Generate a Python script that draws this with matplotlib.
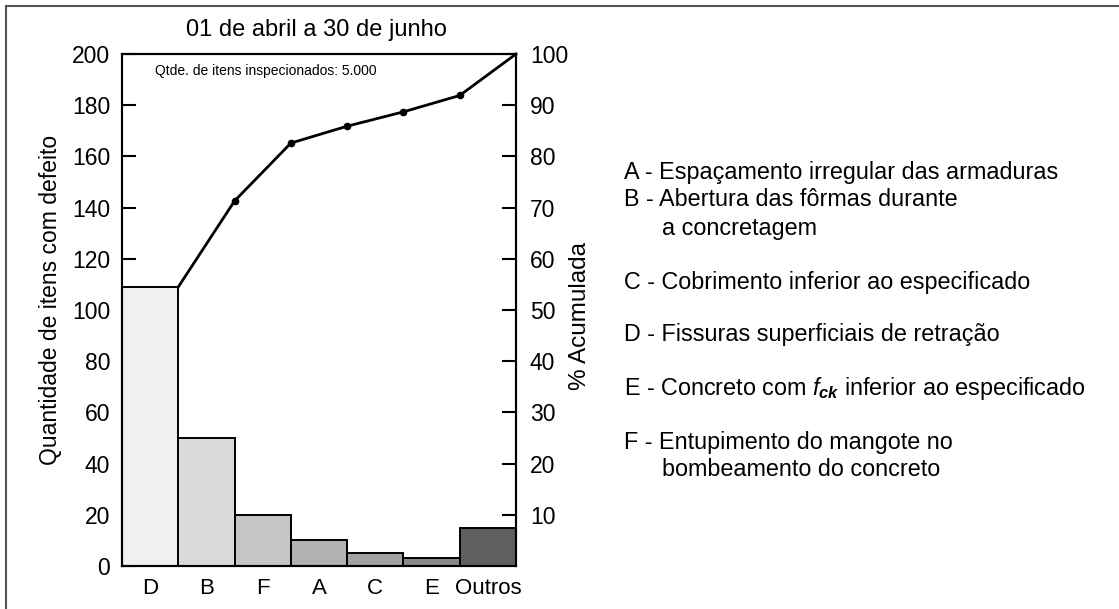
import matplotlib
matplotlib.use("Agg")
import matplotlib.pyplot as plt
from matplotlib.lines import Line2D

plt.rcParams['font.family'] = ['Liberation Sans', 'DejaVu Sans']
plt.rcParams['mathtext.fontset'] = 'custom'
plt.rcParams['mathtext.rm'] = 'Liberation Sans'
plt.rcParams['mathtext.it'] = 'Liberation Sans:italic'
plt.rcParams['mathtext.bf'] = 'Liberation Sans:bold'
plt.rcParams['mathtext.bfit'] = 'Liberation Sans:bold:italic'

# ---- data ----
categories = ['D', 'B', 'F', 'A', 'C', 'E', 'Outros']
counts = [109, 50, 20, 10, 5, 3, 15]
cum_pct = [54.5, 71.3, 82.6, 85.9, 88.7, 91.9, 100]
bar_colors = ['#f0f0f0', '#dadada', '#c5c5c5', '#b2b2b2', '#a2a2a2', '#8a8a8a', '#5f5f5f']
left_ticks = list(range(0, 201, 20))
right_ticks = list(range(10, 101, 10))
title = '01 de abril a 30 de junho'
note = 'Qtde. de itens inspecionados: 5.000'
legend_items = [
    ('A - ', ['Espaçamento irregular das armaduras']),
    ('B - ', ['Abertura das fôrmas durante', 'a concretagem']),
    ('C - ', ['Cobrimento inferior ao especificado']),
    ('D - ', ['Fissuras superficiais de retração']),
    ('E - ', [r'Concreto com $\mathit{f}_{\mathbfit{ck}}$ inferior ao especificado']),
    ('F - ', ['Entupimento do mangote no', 'bombeamento do concreto']),
]

W, H = 1119, 609
fig = plt.figure(figsize=(W / 100, H / 100), dpi=100)

def fx(px):
    return px / W

def fy(py):
    return 1 - py / H

ax = fig.add_axes([fx(122), fy(566), fx(516) - fx(122), fy(54) - fy(566)])
x = list(range(len(categories)))
ax.bar(x, counts, width=1.0, color=bar_colors, edgecolor='black', linewidth=1.4, zorder=2)
ax.set_xlim(-0.5, len(categories) - 0.5)
ax.set_ylim(0, 200)
ax.set_yticks(left_ticks)
ax.set_xticks(x)
ax.set_xticklabels(categories)
ax.tick_params(axis='y', direction='in', length=10, width=1.5, labelsize=16.5, pad=8.5)
ax.tick_params(axis='x', length=0, labelsize=16, pad=9)
for s in ax.spines.values():
    s.set_linewidth(1.5)

ax2 = ax.twinx()
ax2.set_ylim(0, 100)
ax2.set_yticks(right_ticks)
ax2.tick_params(axis='y', direction='in', length=10, width=1.5, labelsize=16.5, pad=10)
for s in ax2.spines.values():
    s.set_linewidth(1.5)
xline = [i + 0.5 for i in x]
ax2.plot(xline, cum_pct, color='black', linewidth=2.0, zorder=3, clip_on=False)
ax2.plot(xline[1:-1], cum_pct[1:-1], 'o', color='black', markersize=4.5, zorder=4)

fig.text(fx(316), fy(30), title, ha='center', va='center', fontsize=17)
fig.text(fx(155), fy(71), note, ha='left', va='center', fontsize=10)

fig.text(fx(51), fy(300), 'Quantidade de itens com defeito', rotation=90,
         ha='center', va='center', fontsize=16.5)
fig.text(fx(580), fy(316), '% Acumulada', rotation=90, ha='center', va='center', fontsize=17.5)

ys = [[173], [200, 228], [282], [335], [388], [443, 470]]
for (lab, lines), yy in zip(legend_items, ys):
    fig.text(fx(624), fy(yy[0]), lab + lines[0], ha='left', va='center', fontsize=16.8)
    for ln, yv in zip(lines[1:], yy[1:]):
        fig.text(fx(662), fy(yv), ln, ha='left', va='center', fontsize=16.8)

# outer frame (top and left)
fig.add_artist(Line2D([fx(6), 1], [fy(6), fy(6)], color='#555555', linewidth=1.5))
fig.add_artist(Line2D([fx(6), fx(6)], [0, fy(6)], color='#555555', linewidth=1.5))

fig.savefig('out.png', dpi=100)
